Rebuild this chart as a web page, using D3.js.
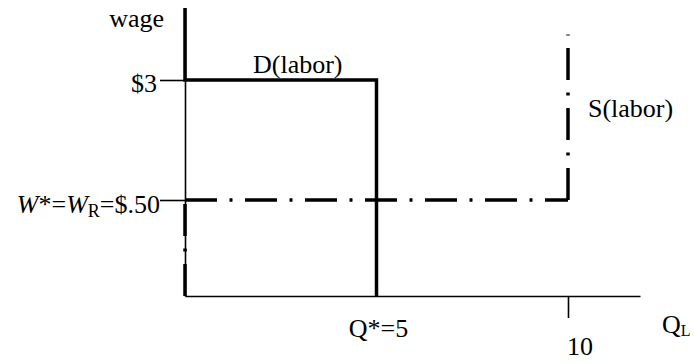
<!DOCTYPE html>
<html>
<head>
<meta charset="utf-8">
<script src="https://cdn.jsdelivr.net/npm/d3@7"></script>
<style>
    body { margin: 0; background: #fff; }
    text { font-family: "Liberation Serif", "Times New Roman", serif; font-size: 26px; fill: #000; }
</style>
</head>
<body>
<script>
// labor market: quantity of labor (Q_L) against wage
var qMax = 11.88;
var wageLevels = [0, 0.5, 3, 4.5];
var qTicks = [10];
var wageTicks = [0.5, 3];

var demandQ = [0, 0, 5, 5];
var demandW = [4.5, 3, 3, 0];

// supply drawn as three separate dash-dot pieces
var supplyQ = [[0, 0], [0, 10], [10, 10]];
var supplyW = [[0, 0.5], [0.5, 0.5], [0.5, 3.95]];

var qStar = 5;

var svg = d3.select("body").append("svg").attr("width", 694).attr("height", 364);

var x = d3.scaleLinear().domain([0, qMax]).range([185, 640]);
// wage axis is not to scale in the sketch, so use a piecewise scale
var y = d3.scaleLinear().domain(wageLevels).range([296, 200, 80, 8]);

var xAxis = svg.append("g")
    .attr("transform", "translate(0," + y(0) + ")")
    .call(d3.axisBottom(x).tickValues(qTicks).tickSize(22).tickSizeOuter(0).tickFormat(""));

var yAxis = svg.append("g")
    .attr("transform", "translate(" + x(0) + ",0)")
    .call(d3.axisLeft(y).tickValues(wageTicks).tickSize(25).tickSizeOuter(0).tickFormat(""));

svg.selectAll(".domain, .tick line")
    .attr("stroke", "#000")
    .attr("stroke-width", 1.6);

var line = d3.line()
    .x(function (d) { return x(d[0]); })
    .y(function (d) { return y(d[1]); });

svg.append("path")
    .datum(d3.zip(demandQ, demandW))
    .attr("d", line)
    .attr("fill", "none")
    .attr("stroke", "#000")
    .attr("stroke-width", 3.5);

svg.selectAll(".supply")
    .data(d3.range(supplyQ.length))
    .enter()
    .append("path")
    .attr("class", "supply")
    .attr("d", function (i) { return line(d3.zip(supplyQ[i], supplyW[i])); })
    .attr("fill", "none")
    .attr("stroke", "#000")
    .attr("stroke-width", 3.5)
    .attr("stroke-dasharray", "32,12.5,3,12.5");

// labels
svg.append("text")
    .attr("x", x(0) - 21)
    .attr("y", 27)
    .attr("text-anchor", "end")
    .text("wage");

svg.append("text")
    .attr("x", x(0) - 28)
    .attr("y", y(3) + 12)
    .attr("text-anchor", "end")
    .text("$3");

var wl = svg.append("text")
    .attr("x", x(0) - 25)
    .attr("y", y(0.5) + 13)
    .attr("text-anchor", "end");
wl.append("tspan").attr("font-style", "italic").text("W");
wl.append("tspan").text("*=");
wl.append("tspan").attr("font-style", "italic").text("W");
wl.append("tspan").attr("font-size", "18px").attr("dy", 4).text("R");
wl.append("tspan").attr("dy", -4).text("=$.50");

svg.append("text")
    .attr("x", x(0) + 68)
    .attr("y", y(3) - 7)
    .text("D(labor)");

svg.append("text")
    .attr("x", x(10) + 20)
    .attr("y", 117)
    .text("S(labor)");

svg.append("text")
    .attr("x", x(qStar) + 2)
    .attr("y", 337)
    .attr("text-anchor", "middle")
    .text("Q*=" + qStar);

svg.selectAll(".qlab")
    .data(qTicks)
    .enter()
    .append("text")
    .attr("class", "qlab")
    .attr("x", function (d) { return x(d) - 1; })
    .attr("y", 355)
    .text(function (d) { return d; });

var ql = svg.append("text")
    .attr("x", 662)
    .attr("y", 333);
ql.append("tspan").text("Q");
ql.append("tspan").attr("font-size", "16px").attr("dy", 3).text("L");
</script>
</body>
</html>
